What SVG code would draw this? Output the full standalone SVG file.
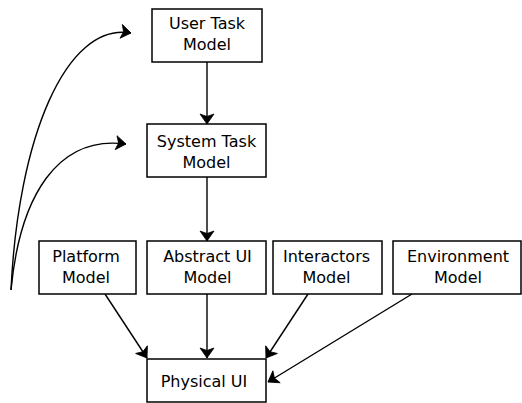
<svg xmlns="http://www.w3.org/2000/svg" width="522" height="403" viewBox="0 0 522 403">
<style>
.box{fill:#fff;stroke:#000;stroke-width:1.5}
.t{font-family:"DejaVu Sans",sans-serif;font-size:16px;text-anchor:middle;fill:#000}
.c{fill:none;stroke:#000;stroke-width:1.4}
</style>
<defs>
<marker id="ah" markerUnits="userSpaceOnUse" viewBox="-11 -8 12 16" refX="0" refY="0" markerWidth="12" markerHeight="16" orient="auto">
<path d="M0,0 L-10,-7 L-7.5,0 L-10,7 z" fill="#000" stroke="#000" stroke-width="0.8" stroke-linejoin="miter"/>
</marker>
</defs>
<rect width="522" height="403" fill="#fff"/>
<g id="connectors">
<path class="c" d="M11,290 C18,140 65,22 131,33" marker-end="url(#ah)"/>
<path class="c" d="M11,290 C20,195 58,135 126,144" marker-end="url(#ah)"/>
<line class="c" x1="207" y1="62" x2="207" y2="124" marker-end="url(#ah)"/>
<line class="c" x1="207" y1="177" x2="207" y2="241" marker-end="url(#ah)"/>
<line class="c" x1="105" y1="294" x2="147" y2="358" marker-end="url(#ah)"/>
<line class="c" x1="207" y1="294" x2="207" y2="358" marker-end="url(#ah)"/>
<line class="c" x1="308" y1="294" x2="266" y2="358" marker-end="url(#ah)"/>
<line class="c" x1="412" y1="294" x2="268" y2="382" marker-end="url(#ah)"/>
</g>
<g id="user-task">
<rect class="box" x="152" y="9" width="110" height="53"/>
<text class="t" x="207" y="29">User Task</text>
<text class="t" x="207" y="50">Model</text>
</g>
<g id="system-task">
<rect class="box" x="147" y="124" width="119" height="53"/>
<text class="t" x="206.5" y="147">System Task</text>
<text class="t" x="206.5" y="168">Model</text>
</g>
<g id="platform">
<rect class="box" x="39" y="241" width="97" height="53"/>
<text class="t" x="86" y="262">Platform</text>
<text class="t" x="86" y="283">Model</text>
</g>
<g id="abstract-ui">
<rect class="box" x="147" y="241" width="119" height="53"/>
<text class="t" x="207.5" y="262">Abstract UI</text>
<text class="t" x="207.5" y="283">Model</text>
</g>
<g id="interactors">
<rect class="box" x="273" y="241" width="109" height="53"/>
<text class="t" x="326.5" y="262">Interactors</text>
<text class="t" x="326.5" y="283">Model</text>
</g>
<g id="environment">
<rect class="box" x="393" y="241" width="128" height="53"/>
<text class="t" x="458" y="262">Environment</text>
<text class="t" x="458" y="283">Model</text>
</g>
<g id="physical-ui">
<rect class="box" x="147" y="359" width="119" height="43"/>
<text class="t" x="204" y="387">Physical UI</text>
</g>
</svg>
